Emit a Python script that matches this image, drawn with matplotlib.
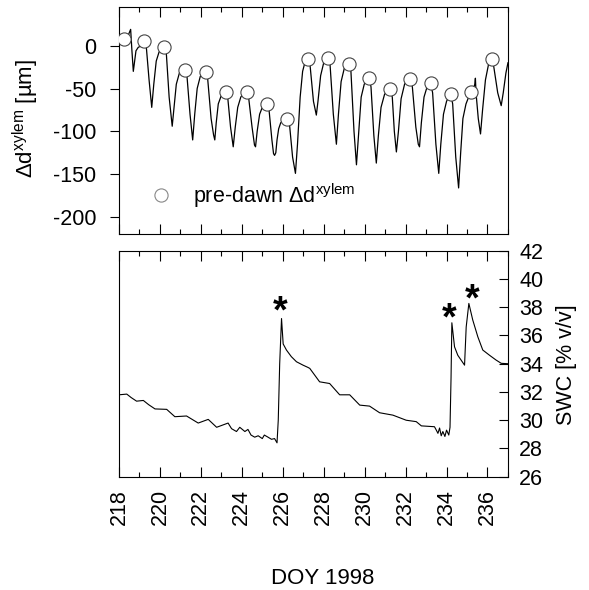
import matplotlib
matplotlib.use("Agg")
import matplotlib.pyplot as plt
from matplotlib.ticker import MultipleLocator

plt.rcParams["font.family"] = ["Liberation Sans", "DejaVu Sans"]
plt.rcParams["mathtext.fontset"] = "custom"
plt.rcParams["mathtext.rm"] = "Liberation Sans"
plt.rcParams["mathtext.it"] = "Liberation Sans:italic"
plt.rcParams["mathtext.bf"] = "Liberation Sans:bold"
plt.rcParams["axes.unicode_minus"] = False

# pre-dawn xylem diameter change (circles)
predawn_day = [218.24, 219.23, 220.21, 221.22, 222.23, 223.21, 224.24, 225.23,
               226.23, 227.23, 228.21, 229.23, 230.21, 231.25, 232.23, 233.22,
               234.20, 235.20, 236.21]
predawn_val = [8, 5, -1, -28, -31, -54, -54, -68, -85, -15, -14, -21, -38,
               -51, -39, -44, -56, -54, -16]

# continuous xylem record
xylem_day = [218.00, 218.24, 218.45, 218.57, 218.63, 218.70, 218.83, 218.94, 219.10,
             219.23, 219.33, 219.47, 219.60, 219.70, 219.82, 219.95, 220.08,
             220.21, 220.31, 220.45, 220.60, 220.70, 220.80, 220.95, 221.10,
             221.22, 221.32, 221.47, 221.60, 221.70, 221.82, 221.97, 222.10,
             222.23, 222.33, 222.50, 222.62, 222.68, 222.75, 222.85, 223.00, 223.10,
             223.21, 223.31, 223.45, 223.58, 223.68, 223.80, 223.95, 224.10,
             224.24, 224.34, 224.50, 224.62, 224.67, 224.75, 224.87, 225.00, 225.12,
             225.23, 225.33, 225.47, 225.55, 225.60, 225.66, 225.72, 225.80, 225.90, 226.05,
             226.23, 226.33, 226.48, 226.62, 226.72, 226.85, 226.97, 227.10,
             227.23, 227.33, 227.50, 227.64, 227.72, 227.85, 228.00, 228.10,
             228.21, 228.31, 228.47, 228.62, 228.72, 228.85, 229.00, 229.12,
             229.23, 229.33, 229.48, 229.60, 229.70, 229.83, 229.98, 230.10,
             230.21, 230.31, 230.45, 230.57, 230.67, 230.80, 230.97, 231.12,
             231.25, 231.35, 231.45, 231.55, 231.65, 231.78, 231.95, 232.10,
             232.23, 232.33, 232.50, 232.62, 232.68, 232.77, 232.90, 233.05,
             233.22, 233.32, 233.48, 233.62, 233.72, 233.85, 234.00, 234.10,
             234.20, 234.30, 234.45, 234.59, 234.69, 234.80, 234.95, 235.08,
             235.20, 235.30, 235.38, 235.41, 235.44, 235.55, 235.66, 235.76, 235.90, 236.05,
             236.21, 236.31, 236.50, 236.67, 236.77, 236.90, 237.00]
xylem_val = [10, 8, 12, 19, -5, -30, -6, -2, 0,
             5, 0, -40, -72, -45, -18, -8, -3,
             -1, -8, -60, -94, -70, -45, -32, -29,
             -28, -35, -80, -110, -80, -50, -36, -32,
             -31, -38, -85, -104, -110, -90, -68, -58, -55,
             -54, -60, -95, -118, -95, -72, -60, -55,
             -54, -62, -95, -116, -118, -100, -80, -72, -69,
             -68, -75, -110, -126, -128, -125, -110, -97, -90, -87,
             -85, -92, -130, -149, -115, -60, -30, -18,
             -15, -22, -65, -81, -65, -35, -20, -15,
             -14, -22, -80, -115, -80, -42, -27, -22,
             -21, -30, -100, -139, -105, -60, -45, -40,
             -38, -48, -105, -137, -105, -72, -57, -52,
             -51, -60, -100, -124, -100, -62, -45, -40,
             -39, -48, -95, -115, -118, -90, -60, -48,
             -44, -55, -115, -149, -115, -80, -65, -60,
             -56, -68, -130, -166, -125, -85, -68, -60,
             -54, -52, -45, -38, -55, -85, -103, -75, -40, -22,
             -16, -25, -55, -70, -55, -32, -20]

# soil water content
swc_day = [218.00, 218.38, 218.60, 218.86, 219.19, 219.45, 219.76, 220.33, 220.73,
           221.30, 221.87, 222.36, 222.77, 223.33, 223.50, 223.74, 223.90, 224.15,
           224.30, 224.45, 224.63, 224.80, 225.00, 225.10, 225.28, 225.45, 225.60,
           225.72, 225.78, 225.85, 225.94, 226.02, 226.18, 226.42, 226.67, 226.99,
           227.23, 227.32, 227.80, 228.29, 228.78, 229.27, 229.76, 230.24, 230.73,
           231.38, 232.03, 232.52, 232.77, 233.41, 233.50, 233.58, 233.66, 233.74,
           233.82, 233.92, 234.00, 234.11, 234.17, 234.22, 234.26, 234.39, 234.55,
           234.88, 234.96, 235.09, 235.28, 235.53, 235.77, 236.10, 236.42, 236.67,
           237.00]
swc_val = [31.8, 31.85, 31.6, 31.35, 31.4, 31.1, 30.8, 30.77, 30.25,
           30.3, 29.8, 30.06, 29.5, 29.8, 29.4, 29.2, 29.5, 29.2,
           29.35, 28.95, 28.8, 28.9, 28.7, 28.95, 28.8, 28.65, 28.7,
           28.4, 30.0, 34.0, 37.2, 35.4, 34.97, 34.5, 34.14, 33.9,
           33.74, 33.67, 32.72, 32.6, 31.8, 31.8, 31.07, 31.0, 30.53,
           30.36, 30.0, 29.9, 29.6, 29.54, 29.3, 29.07, 29.45, 28.9,
           29.2, 28.85, 29.3, 28.95, 29.5, 33.0, 36.9, 35.2, 34.6,
           33.9, 36.6, 38.27, 37.1, 35.9, 34.97, 34.6, 34.26, 34.03,
           34.0]

# rain events marked with asterisks
rain_day = [225.85, 234.15, 235.25]
rain_val = [37.6, 37.1, 38.5]

fig = plt.figure(figsize=(5.89, 5.90), dpi=100)
ax1 = fig.add_axes([0.202, 0.603, 0.6604, 0.385])
ax2 = fig.add_axes([0.202, 0.192, 0.6604, 0.383])

# top panel
ax1.plot(xylem_day, xylem_val, color="black", lw=0.9, zorder=2)
ax1.plot(predawn_day, predawn_val, "o", ms=9.5, mfc="white", mec="#444444",
         mew=0.8, ls="none", zorder=3, label="pre-dawn $\\Delta$d$^{\\mathregular{xylem}}$")
ax1.set_xlim(218, 237)
ax1.set_ylim(-220, 45)
ax1.set_yticks([0, -50, -100, -150, -200])
ax1.xaxis.set_major_locator(MultipleLocator(2))
ax1.xaxis.set_minor_locator(MultipleLocator(1))
ax1.tick_params(axis="x", which="major", direction="in", length=7, width=0.8,
                top=True, bottom=True, labelbottom=False)
ax1.tick_params(axis="x", which="minor", direction="in", length=3.5, width=0.8,
                top=True, bottom=True)
ax1.tick_params(axis="y", direction="out", length=6.5, width=0.8, labelsize=15.5, pad=10)
ax1.set_ylabel("$\\Delta$d$^{\\mathregular{xylem}}$ [µm]", fontsize=16)
ax1.yaxis.set_label_coords(-0.2, 0.51)
leg = ax1.legend(loc="lower left", bbox_to_anchor=(0.03, 0.07), frameon=False,
                 fontsize=15.5, handletextpad=0.5, borderaxespad=0)
for h in leg.legend_handles:
    h.set_markeredgecolor("#888888")

# bottom panel
ax2.plot(swc_day, swc_val, color="black", lw=0.8)
for d, v in zip(rain_day, rain_val):
    ax2.text(d, v, "*", fontsize=27, fontweight="bold", ha="center", va="center")
ax2.set_xlim(218, 237)
ax2.set_ylim(26, 42)
ax2.yaxis.tick_right()
ax2.yaxis.set_label_position("right")
ax2.set_yticks(range(26, 43, 2))
ax2.xaxis.set_major_locator(MultipleLocator(2))
ax2.xaxis.set_minor_locator(MultipleLocator(1))
ax2.set_xticks(range(218, 237, 2))
ax2.tick_params(axis="x", which="major", direction="in", length=7, width=0.8,
                top=True, bottom=True, labelsize=15.5, labelrotation=90, pad=9)
ax2.tick_params(axis="x", which="minor", direction="in", length=3.5, width=0.8,
                top=True, bottom=True)
ax2.tick_params(axis="y", direction="in", length=6.5, width=0.8, labelsize=15.5,
                left=False, right=True, pad=8)
ax2.set_ylabel("SWC [% v/v]", fontsize=15.5)
ax2.yaxis.set_label_coords(1.123, 0.494)
ax2.set_xlabel("DOY 1998", fontsize=16)
ax2.xaxis.set_label_coords(0.524, -0.405)

for ax in (ax1, ax2):
    for s in ax.spines.values():
        s.set_linewidth(0.8)

fig.savefig("out.png", dpi=100)
